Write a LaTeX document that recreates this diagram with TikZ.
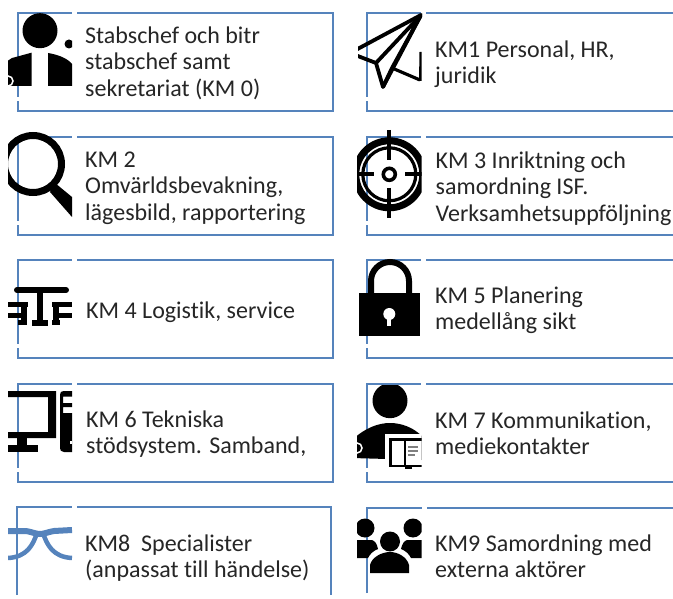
\documentclass[tikz,border=0pt]{standalone}
\usepackage{fontspec}
\setmainfont[Ligatures=NoCommon]{Carlito}
\definecolor{kmblue}{HTML}{5583BC}
\definecolor{kmtextc}{HTML}{262626}
\tikzset{
  kmline/.style={draw=kmblue,line width=1.9pt},
  kmtext/.style={anchor=north west,inner sep=0pt,align=left,text=kmtextc,font=\fontsize{24}{26.5}\selectfont},
  ink/.style={fill=black,draw=none},
  inkline/.style={draw=black,line width=#1,line cap=butt},
  inkline/.default=4pt
}
% box: x-left, x-right, y-top, y-bottom
\newcommand{\kmbox}[4]{%
  \draw[kmline,line cap=rect] (#1+60,#3) -- (#2,#3) -- (#2,#4) -- (#1,#4) -- (#1,#4-9);
  \draw[kmline,line cap=rect] (#1,#4-15) -- (#1,#3) -- (#1+53,#3);
}
\newcommand{\kmlabel}[4]{\node[kmtext] (#1) at (#2,#3-20) {\rule{0pt}{20pt}#4};}
\begin{document}
\begin{tikzpicture}[x=1pt,y=-1pt]
\useasboundingbox (0,0) rectangle (673,599);
\clip (0,0) rectangle (673,599);
\fill[white] (0,0) rectangle (673,599);
% boxes
\kmbox{18}{333}{13}{111}
\kmbox{18}{333}{137}{235}
\kmbox{18}{333}{260}{358}
\kmbox{18}{333}{384}{482}
\draw[kmline] (17,595) -- (17,507) -- (72,507);
\draw[kmline] (77,507) -- (331,507) -- (331,595);
\kmbox{367}{680}{13}{111}
\kmbox{367}{680}{137}{235}
\kmbox{367}{680}{260}{358}
\kmbox{367}{680}{384}{482}
\draw[kmline] (367,593) -- (367,508) -- (421.5,508);
\draw[kmline] (427,508) -- (680,508);
% labels
\kmlabel{km0}{85}{43}{Stabschef och bitr\\stabschef samt\\sekretariat (KM 0)}
\kmlabel{km1}{435}{57}{KM1 Personal, HR,\\juridik}
\kmlabel{km2}{85}{167}{KM 2\\Omvärldsbevakning,\\lägesbild, rapportering}
\kmlabel{km3}{435.5}{168}{KM 3 Inriktning och\\samordning ISF.\\Verksamhetsuppföljning}
\kmlabel{km4}{86}{318}{KM 4 Logistik, service}
\kmlabel{km5}{435}{303}{KM 5 Planering\\medellång sikt}
\kmlabel{km6}{86}{427}{KM 6 Tekniska\\stödsystem. Samband,}
\kmlabel{km7}{435}{428}{KM 7 Kommunikation,\\mediekontakter}
\kmlabel{km8}{85}{551}{KM8\ \ Specialister\\(anpassat till händelse)}
\kmlabel{km9}{435}{551}{KM9 Samordning med\\externa aktörer}
% icon: person (KM 0)
\begin{scope}
\clip (8,10) rectangle (72,105);
\fill[ink] (40,30.7) circle (17.5);
\fill[ink] (69,44) circle (4.5);
\fill[ink] (0,66) -- (12,58) -- (31.5,52.7) -- (31.5,86) -- (0,86) -- cycle;
\fill[ink] (48,53) .. controls (60,55) and (68,59) .. (72,64) -- (72,86) -- (48,86) -- cycle;
\draw[white,line width=1.5pt] (8,81) circle (5);
\end{scope}
% icon: magnifier (KM 2)
\begin{scope}
\clip (8,125) rectangle (72,225);
\draw[black,line width=7pt] (33,164) circle (28.5);
\fill[ink] (55,183) -- (72,197) -- (72,217) -- (50,192) -- cycle;
\end{scope}
% icon: paper plane (KM1)
\begin{scope}
\clip (358,10) rectangle (422,100);
\draw[black,line width=3.8pt,line join=round] (352,52) -- (421,15) -- (383,87) -- (376,63) -- (350,53);
\draw[black,line width=3.8pt,line join=round] (376,63) -- (421,15) -- (392,68) -- (383,87);
\draw[black,line width=3.2pt,line join=round] (392,68) -- (420,80);
\fill[ink] (419.5,52) -- (421.7,52) -- (421.7,81) -- (419,81) -- cycle;
\end{scope}
% icon: target (KM 3)
\begin{scope}
\clip (357,125) rectangle (421.7,225);
\draw[black,line width=7pt] (389.3,174.3) circle (33.5);
\draw[black,line width=3.2pt] (389.3,174.3) circle (26.5);
\draw[black,line width=3.6pt] (389.3,174.3) circle (6);
\draw[inkline] (389.3,130) -- (389.3,160);
\draw[inkline] (389.3,188) -- (389.3,218);
\draw[inkline] (357,174.3) -- (374,174.3);
\draw[inkline] (405,174.3) -- (421.7,174.3);
\end{scope}
% icon: tables (KM 4)
\begin{scope}
\clip (8,280) rectangle (72,335);
\draw[black,line width=6pt,line cap=round] (17,290) -- (66,290);
\fill[ink] (37,290) rectangle (43,324);
\fill[ink] (32,320) rectangle (48,326);
\fill[ink] (8,302.5) rectangle (28,307.5);
\fill[ink] (8,313) rectangle (26,318);
\fill[ink] (21,303) rectangle (27,324);
\fill[ink] (18,320) rectangle (27,325);
\fill[ink] (52,302.5) rectangle (72,307.5);
\fill[ink] (54,313) rectangle (72,318);
\fill[ink] (53,303) rectangle (59,324);
\fill[ink] (52,320) rectangle (60,325);
\end{scope}
% icon: computer (KM 6)
\begin{scope}
\clip (8,385) rectangle (72,460);
\fill[ink] (8,391) -- (56,391) -- (56,438) -- (8,438) -- (8,432) -- (48,432) -- (48,397) -- (8,397) -- cycle;
\fill[ink] (17,438) rectangle (27,446);
\fill[ink] (8,445) rectangle (38,452);
\fill[ink] (64,391) -- (72,391) -- (72,396.5) -- (63,396.5) -- (63,403) -- (72,403) -- (72,407) -- (63,407) -- (63,413) -- (72,413) -- (72,452) -- (64,452) .. controls (61,452) and (60,450) .. (60,448) -- (60,395) .. controls (60,392) and (61,391) .. (64,391) -- cycle;
\fill[white] (69.5,441) rectangle (72,444);
\end{scope}
% icon: lock (KM 5)
\begin{scope}
\draw[black,line width=6pt] (371,296) -- (371,281) arc[start angle=180,end angle=360,radius=19] -- (409,296);
\fill[ink] (359,293) rectangle (420,336);
\fill[white] (389.3,314) circle (6);
\fill[white] (387.3,315) rectangle (391.3,326);
\end{scope}
% icon: reader (KM 7)
\begin{scope}
\clip (357,385) rectangle (421.7,475);
\fill[ink] (390,400.7) circle (17.5);
\fill[ink] (352,458) -- (352,440) .. controls (365,428) and (378,423) .. (390,423) .. controls (402,423) and (414,428) .. (421.7,436) -- (421.7,460) -- (352,458) -- cycle;
\fill[white] (385,434) rectangle (425,470);
\draw[black,line width=2.6pt] (425,439.5) -- (390.5,439.5) -- (390.5,466) -- (425,466);
\draw[black,line width=2.4pt] (405,439.5) -- (405,466);
\draw[gray,line width=1.6pt] (408,447) -- (418,447) (408,451) -- (418,451) (408,455) -- (415,455);
\fill[ink] (405,466) rectangle (412,469);
\draw[white,line width=1.5pt] (357,448) circle (5);
\end{scope}
% icon: group (KM9)
\begin{scope}
\clip (357,510) rectangle (421.7,590);
\fill[ink] (365,528) circle (9.5);
\fill[ink] (413,528) circle (9.5);
\fill[ink] (390,541.5) circle (10);
\fill[ink] (350,540) -- (372,540) .. controls (375,541) and (377,544) .. (378,549) .. controls (373,551) and (370,554) .. (368,558) -- (350,558) -- cycle;
\fill[ink] (425,540) -- (407,540) .. controls (404,541) and (402,544) .. (401,549) .. controls (406,551) and (409,554) .. (411,558) -- (425,558) -- cycle;
\fill[ink] (370,573) -- (370,565) .. controls (372,557) and (382,552) .. (390,552) .. controls (398,552) and (407,557) .. (409,565) -- (409,573) -- cycle;
\end{scope}
% icon: glasses (KM8)
\begin{scope}
\clip (8,515) rectangle (72,570);
\draw[kmblue,line width=6pt] (8,531) -- (26,531) .. controls (32,532) and (36,534) .. (40,534) .. controls (44,534) and (48,532) .. (54,531) -- (72,530);
\draw[kmblue,line width=4.5pt] (37,533) .. controls (33,545) and (27,557) .. (8,558);
\draw[kmblue,line width=4.5pt] (43,533) .. controls (47,545) and (53,557) .. (72,558);
\end{scope}
\end{tikzpicture}
\end{document}
